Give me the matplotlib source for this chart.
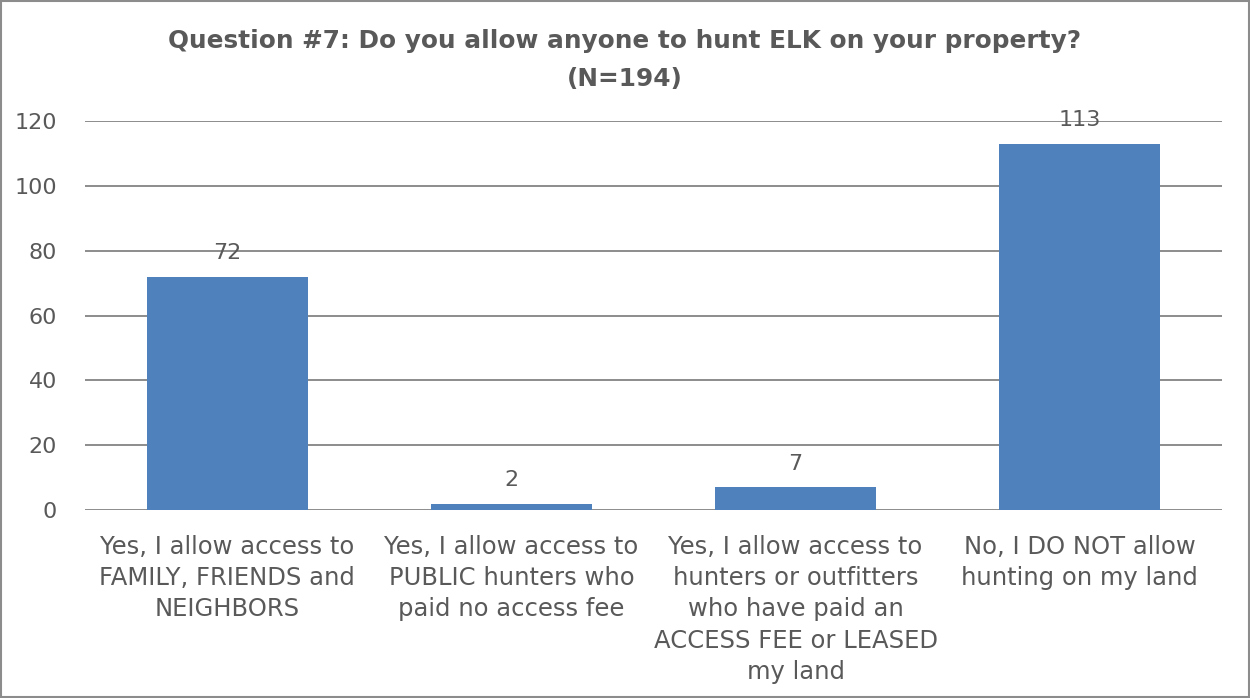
import matplotlib
matplotlib.use("Agg")
import matplotlib.pyplot as plt
from matplotlib.patches import Rectangle

categories = [
    "Yes, I allow access to\nFAMILY, FRIENDS and\nNEIGHBORS",
    "Yes, I allow access to\nPUBLIC hunters who\npaid no access fee",
    "Yes, I allow access to\nhunters or outfitters\nwho have paid an\nACCESS FEE or LEASED\nmy land",
    "No, I DO NOT allow\nhunting on my land",
]
counts = [72, 2, 7, 113]
yticks = [0, 20, 40, 60, 80, 100, 120]

text_color = "#595959"
bar_color = "#4F81BD"
grid_color = "#8C8C8C"

plt.rcParams["font.family"] = ["DejaVu Sans"]

fig = plt.figure(figsize=(12.5, 6.98), dpi=100)
ax = fig.add_axes([0.068, 0.2693, 0.9096, 0.5573])

x = range(len(categories))
bars = ax.bar(x, counts, width=0.567, color=bar_color, zorder=3)

for xi, v in zip(x, counts):
    ax.text(xi, v + 4.1, str(v), ha="center", va="bottom", fontsize=16,
            color=text_color, zorder=4)

ax.set_xlim(-0.5, len(categories) - 0.5)
ax.set_ylim(0, 120)
ax.set_yticks(yticks)
ax.set_yticklabels([str(t) for t in yticks], fontsize=16, color=text_color)
ax.set_xticks(list(x))
ax.set_xticklabels(categories, fontsize=17.5, color=text_color, linespacing=1.38)
ax.tick_params(axis="y", length=0, pad=20)
ax.tick_params(axis="x", length=0, pad=18)
ax.grid(axis="y", color=grid_color, linewidth=1.4, zorder=0)
for s in ax.spines.values():
    s.set_visible(False)

fig.text(0.5, 0.958, "Question #7: Do you allow anyone to hunt ELK on your property?\n(N=194)",
         ha="center", va="top", fontsize=17.8, fontweight="bold", color=text_color,
         linespacing=1.7)

fig.patches.append(Rectangle((0.0008, 0.0014), 0.9984, 0.9972, transform=fig.transFigure,
                             fill=False, edgecolor="#8C8C8C", linewidth=1.5))

fig.savefig("out.png", dpi=100)
